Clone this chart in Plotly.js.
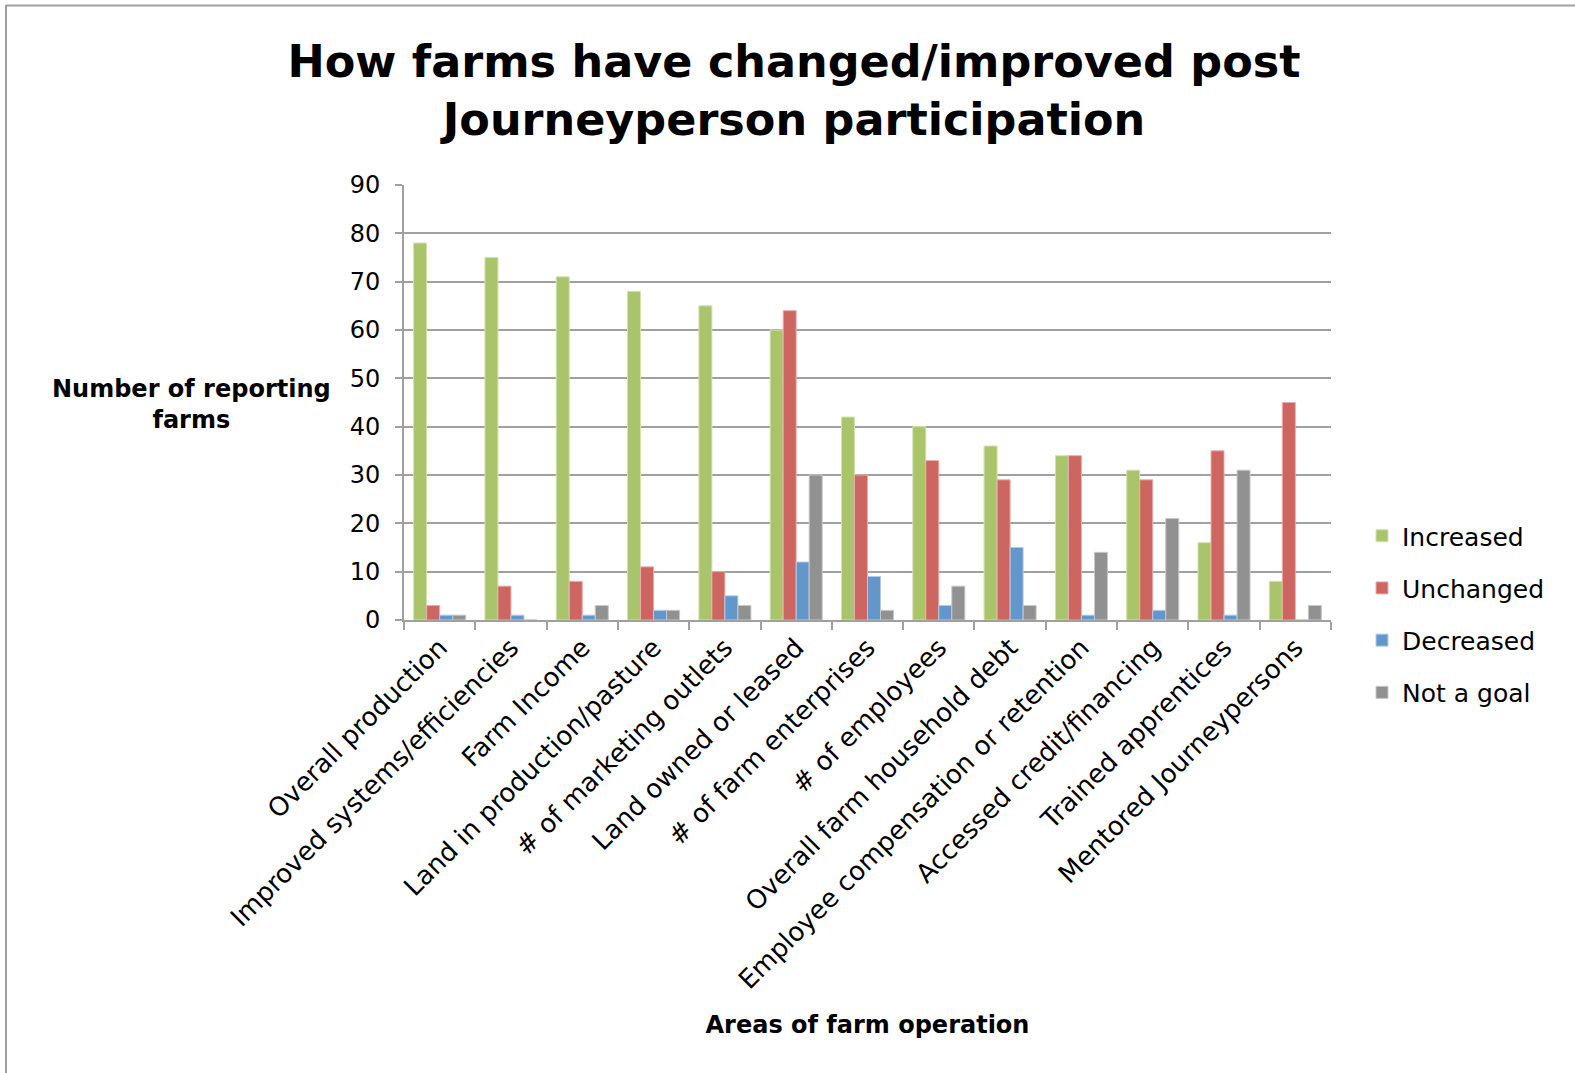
<!DOCTYPE html>
<html>
<head>
<meta charset="utf-8">
<script src="https://cdn.plot.ly/plotly-3.0.1.min.js"></script>
<style>
html,body{margin:0;padding:0;background:#fff;overflow:hidden;}
#chart{width:1575px;height:1073px;}
</style>
</head>
<body>
<div id="chart"></div>
<script>
const categories = [
  "Overall production",
  "Improved systems/efficiencies",
  "Farm Income",
  "Land in production/pasture",
  "# of marketing outlets",
  "Land owned or leased",
  "# of farm enterprises",
  "# of employees",
  "Overall farm household debt",
  "Employee compensation or retention",
  "Accessed credit/financing",
  "Trained apprentices",
  "Mentored Journeypersons"
];
const increased = [78, 75, 71, 68, 65, 60, 42, 40, 36, 34, 31, 16, 8];
const unchanged = [3, 7, 8, 11, 10, 64, 30, 33, 29, 34, 29, 35, 45];
const decreased = [1, 1, 1, 2, 5, 12, 9, 3, 15, 1, 2, 1, 0];
const notAGoal  = [1, 0, 3, 2, 3, 30, 2, 7, 3, 14, 21, 31, 3];
const seriesNames = ["Increased", "Unchanged", "Decreased", "Not a goal"];
const yTickVals = [0, 10, 20, 30, 40, 50, 60, 70, 80, 90];

const fills = ["#A9C46A", "#CD6560", "#6497C9", "#919191"];
const edges = ["#D3E2B2", "#E8AEAB", "#B3CCE6", "#C8C8C8"];
const seriesValues = [increased, unchanged, decreased, notAGoal];

const traces = seriesValues.map((vals, i) => ({
  type: "bar",
  name: seriesNames[i],
  x: categories,
  y: vals,
  legendgroup: "g" + i,
  marker: {color: fills[i], line: {color: edges[i], width: 1}},
  hoverinfo: "x+y+name"
}));

const W = 1575, H = 1073;
const mL = 404, mR = 244, mT = 185, mB = 453;
const pw = W - mL - mR, ph = H - mT - mB;
const px = v => (v - mL) / pw;
const py = v => (H - mB - v) / ph;

const layout = {
  width: W, height: H,
  paper_bgcolor: "#fff", plot_bgcolor: "#fff",
  margin: {l: mL, r: mR, t: mT, b: mB, pad: 0},
  font: {family: "DejaVu Sans, Verdana, sans-serif", color: "#000", size: 24},
  title: {
    text: "<b>How farms have changed/improved post<br>Journeyperson participation</b>",
    font: {family: "DejaVu Sans, Verdana, sans-serif", size: 44.5, color: "#000"},
    xref: "container", yref: "container",
    x: 794 / W, xanchor: "center",
    y: 1 - 77 / H, yanchor: "middle"
  },
  barmode: "group",
  bargap: 0.27,
  bargroupgap: 0,
  xaxis: {
    type: "category",
    tickangle: -45,
    tickson: "boundaries",
    ticks: "outside", ticklen: 8, tickwidth: 2, tickcolor: "#A0A0A0",
    showline: true, linecolor: "#A0A0A0", linewidth: 2,
    showgrid: false,
    tickfont: {size: 26, color: "#000"},
    title: {
      text: "<b>Areas of farm operation</b>",
      font: {size: 24, color: "#000"},
      standoff: 22
    },
    automargin: false
  },
  yaxis: {
    range: [0, 90],
    tickvals: yTickVals,
    ticks: "outside", ticklen: 7, tickwidth: 2, tickcolor: "#A0A0A0",
    ticklabelstandoff: 10,
    showline: true, linecolor: "#A0A0A0", linewidth: 2,
    showgrid: true, gridcolor: "#A0A0A0", gridwidth: 2,
    zeroline: false,
    tickfont: {size: 24, color: "#000"},
    automargin: false
  },
  legend: {
    xref: "container", yref: "container",
    x: 1362 / W, xanchor: "left",
    y: 1 - 513 / H, yanchor: "top",
    traceorder: "grouped",
    tracegroupgap: 16.7,
    font: {size: 25, color: "#000"},
    bgcolor: "rgba(0,0,0,0)",
    borderwidth: 0
  },
  annotations: [{
    text: "<b>Number of reporting<br>farms</b>",
    xref: "paper", yref: "paper",
    x: px(191), y: py(404),
    xanchor: "center", yanchor: "middle",
    showarrow: false,
    font: {size: 24, color: "#000"},
    align: "center"
  }],
  shapes: [
    {type: "line", xref: "paper", yref: "paper",
     x0: px(6), x1: px(1600), y0: py(5.5), y1: py(5.5),
     line: {color: "#A0A0A0", width: 2}},
    {type: "line", xref: "paper", yref: "paper",
     x0: px(6), x1: px(6), y0: py(5), y1: py(1100),
     line: {color: "#A0A0A0", width: 2}}
  ],
  showlegend: true
};

Plotly.newPlot("chart", traces, layout, {displayModeBar: false, staticPlot: true});
</script>
</body>
</html>
